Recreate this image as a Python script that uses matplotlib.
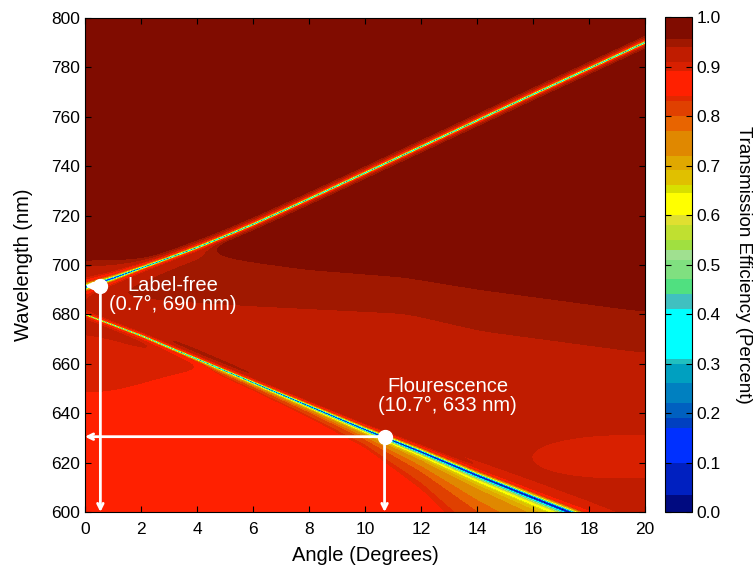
import numpy as np
import matplotlib.pyplot as plt

plt.rcParams['font.family'] = ['Liberation Sans', 'DejaVu Sans']

# guided-mode resonance branches (angle in deg, wavelength in nm)
upper_angle = [0, 1, 2, 3, 4, 5, 6, 7, 8, 10, 12, 14, 16, 18, 20]
upper_wl = [691, 694.6, 698.7, 702.8, 707.0, 711.6, 716.4, 721.5, 726.7, 737.2, 747.8,
            758.4, 769, 779.5, 790]
upper_width = [0.8, 0.6, 0.45, 0.4, 0.4, 0.4, 0.4, 0.4, 0.4, 0.4, 0.4, 0.4, 0.4, 0.4, 0.4]

lower_angle = [0, 2, 4, 6, 8, 10, 12, 14, 16, 18, 20]
lower_wl = [680, 671.5, 662, 652.5, 643, 633.5, 624.5, 615, 606, 597, 588]
lower_width = [0.25, 0.3, 0.35, 0.4, 0.5, 0.6, 0.7, 0.8, 0.9, 1.0, 1.0]
shoulder_width = [0.3, 0.5, 0.8, 1.2, 1.8, 3.0, 6.5, 12, 16, 18, 20]
strip_height = [0.0, 0.02, 0.03, 0.03, 0.035, 0.035, 0.03, 0.03, 0.03, 0.03, 0.03]

# background band boundaries (wavelength vs angle)
bc_angle = [0, 3, 6, 11.4, 14.1, 20]
bc_wl = [687, 684, 682, 679, 672, 663]
dark_angle = [0, 4.2, 4.6, 5.2, 6, 8, 11.4, 14.1, 20]
dark_wl = [730, 730, 705, 703.5, 702, 699, 696, 691, 682]
left_angle = [0, 1, 2, 3, 4, 4.6, 5]
c_depth = [7.5, 6, 5, 3, 1, 0, -3]
r_depth = [33, 28, 21, 13, 6, 0, -3]

# transmission levels and colours as in the colour bar
levels = [0.0, 0.035, 0.10, 0.17, 0.19, 0.22, 0.26, 0.30, 0.31, 0.41, 0.44, 0.47,
          0.51, 0.53, 0.55, 0.58, 0.60, 0.645, 0.66, 0.69, 0.72, 0.77, 0.80, 0.83,
          0.84, 0.89, 0.91, 0.94, 0.955, 1.0]
colors = ['#000a80', '#0020c0', '#0030ff', '#0040c0', '#0060c0', '#0080c0', '#00a0c0',
          '#20c0c0', '#00ffff', '#40c0c0', '#50e080', '#80e080', '#a0e090', '#a0e040',
          '#c0e030', '#e0e030', '#ffff00', '#d8e000', '#e0c000', '#e0a800', '#e08800',
          '#e86400', '#e04000', '#e02800', '#ff2000', '#d82000', '#c01c00', '#a01800',
          '#800c00']

marker_angle = [0.55, 10.7]
marker_wl = [691.5, 630.5]


def step(x, x0, w=1.5):
    return np.clip((x - x0) / w + 0.5, 0, 1)


def blur(x, sigma):
    k = np.exp(-0.5 * ((x[:, None] - x[None, :]) / sigma) ** 2)
    return k / k.sum(axis=1, keepdims=True)


ang = np.linspace(0, 20, 401)
wav = np.linspace(600, 800, 2001)
A, W = np.meshgrid(ang, wav)
Bw = blur(wav, 2.0)
Ba = blur(ang, 0.35)

lam_u = np.interp(A, upper_angle, upper_wl)
lam_l = np.interp(A, lower_angle, lower_wl)

# background above the lower branch
bc = np.interp(A, bc_angle, bc_wl)
dlow = np.where(W > lam_u, 702, np.interp(A, dark_angle, dark_wl))
bg_up = 0.925 + 0.02 * step(W, bc) + 0.03 * step(W, dlow)
r2 = ((A - 19.3) / 3.5) ** 2 + ((W - 622.5) / 9.5) ** 2
bg_up -= 0.025 * np.clip((1.1 - r2) / 0.3, 0, 1)
bg_up = Bw @ bg_up @ Ba.T

# background below the lower branch
depth = lam_l - W
cd = np.interp(A, left_angle, c_depth)
rd = np.interp(A, left_angle, r_depth)
bg_lo = 0.86 + 0.04 * step(-depth, -rd) + 0.025 * step(-depth, -cd)
bg_lo = Bw @ bg_lo @ Ba.T

T = np.where(W >= lam_l, bg_up, bg_lo)

# upper resonance: sharp dip with a glow on the long-wavelength side
du = W - lam_u
wu = np.interp(A, upper_angle, upper_width)
T -= 0.92 * wu ** 2 / (du ** 2 + wu ** 2)
T -= 0.2 * np.exp(-np.clip(du, 0, None) / 0.8) * (du > 0)
T -= 0.12 * np.exp(np.clip(du, None, 0) / 0.6) * (du < 0) * np.clip(1 - A / 2, 0, 1)

# lower resonance: dip, wide shoulder below and dark strip above
dl = W - lam_l
wl_ = np.interp(A, lower_angle, lower_width)
sw = np.interp(A, lower_angle, shoulder_width)
sh = np.interp(A, lower_angle, strip_height)
T -= 0.88 * wl_ ** 2 / (dl ** 2 + wl_ ** 2)
T -= 0.2 * np.exp(np.clip(dl, None, 0) / sw) * (dl < 0)
T += sh * np.exp(-((dl - 2.8) / 1.7) ** 2) * (dl > 0)
T = np.clip(T, 0.001, 0.999)

fig = plt.figure(figsize=(7.56, 5.71), dpi=100)
ax = fig.add_axes([0.1124, 0.1033, 0.7407, 0.8652])
cs = ax.contourf(A, W, T, levels=levels, colors=colors)

# annotations
for a, w in zip(marker_angle, marker_wl):
    ax.annotate('', xy=(0, w), xytext=(a, w),
                arrowprops=dict(arrowstyle='->', color='white', lw=2, shrinkA=0, shrinkB=0))
    ax.annotate('', xy=(a, 600), xytext=(a, w),
                arrowprops=dict(arrowstyle='->', color='white', lw=2, shrinkA=0, shrinkB=0))
ax.plot(marker_angle, marker_wl, 'o', color='white', ms=10, zorder=5)

ax.text(3.14, 687.7, 'Label-free\n(0.7°, 690 nm)', color='white', fontsize=14.5,
        ha='center', va='center', linespacing=1.0)
ax.text(12.95, 646.8, 'Flourescence\n(10.7°, 633 nm)', color='white', fontsize=14.5,
        ha='center', va='center', linespacing=1.0)

ax.set_xlim(0, 20)
ax.set_ylim(600, 800)
ax.set_xticks(np.arange(0, 21, 2))
ax.set_yticks(np.arange(600, 801, 20))
ax.tick_params(direction='in', top=True, right=True, length=4, labelsize=12.5)
ax.tick_params(axis='x', pad=7)
ax.set_xlabel('Angle (Degrees)', fontsize=14.5, labelpad=7)
ax.set_ylabel('Wavelength (nm)', fontsize=14.5, labelpad=13)

cax = fig.add_axes([0.8796, 0.1033, 0.0357, 0.8669])
cb = fig.colorbar(cs, cax=cax, spacing='proportional', ticks=np.arange(0, 1.01, 0.1))
cb.ax.set_yticklabels(['%.1f' % t for t in np.arange(0, 1.01, 0.1)])
cb.ax.tick_params(direction='in', left=True, right=True, length=4, labelsize=12.5)
cb.set_label('Transmission Efficiency (Percent)', rotation=270, fontsize=13.5, labelpad=22)

fig.savefig('out.png', dpi=100)
